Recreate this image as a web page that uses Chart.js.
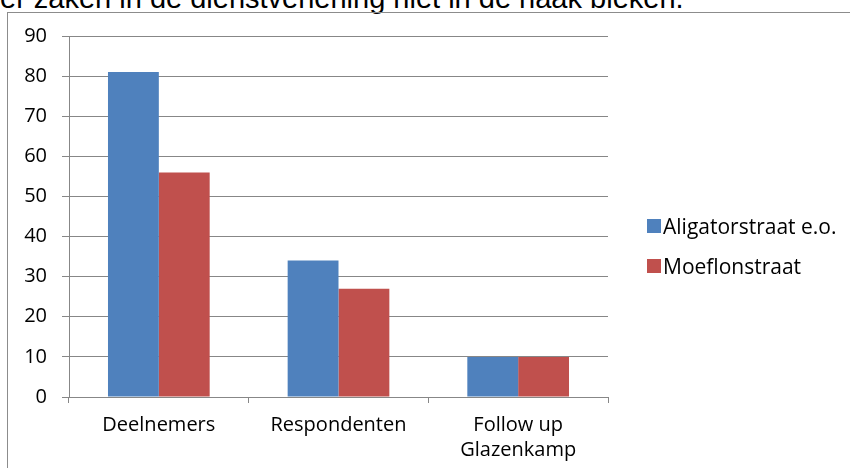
<!DOCTYPE html>
<html>
<head>
<meta charset="utf-8">
<script src="https://cdn.jsdelivr.net/npm/chart.js@4.4.1/dist/chart.umd.min.js"></script>
<style>
    html, body { margin: 0; padding: 0; background: #fff; overflow: hidden; }
    #page { position: relative; width: 850px; height: 468px; overflow: hidden; }
    #intro {
        position: absolute; left: 0; top: -16px; white-space: nowrap;
        font-family: "Liberation Sans", Arial, sans-serif; font-size: 29px; line-height: 29px; color: #000;
    }
    #frame {
        position: absolute; left: 7px; top: 12px; width: 900px; height: 500px;
        border: 1.5px solid #8c8c8c; box-sizing: border-box;
    }
    #chart { position: absolute; left: 0; top: 0; }
    #legend { position: absolute; left: 647px; top: 210px; font-family: "Open Sans", sans-serif; font-size: 21px; color: #000; }
    .item { display: flex; align-items: center; height: 32px; margin-bottom: 8px; }
    .box { width: 14px; height: 14px; margin-right: 2px; }
</style>
</head>
<body>
<div id="page">
    <div id="intro">er zaken in de dienstverlening niet in de haak bleken.</div>
    <div id="frame"></div>
    <canvas id="chart" width="850" height="468"></canvas>
    <div id="legend"></div>
</div>
<script>
/* ===== data ===== */
const categories = ["Deelnemers", "Respondenten", ["Follow up", "Glazenkamp"]];
const seriesNames = ["Aligatorstraat e.o.", "Moeflonstraat"];
const aligatorValues = [81, 34, 10];
const moeflonValues = [56, 27, 10];
const yTicks = [0, 10, 20, 30, 40, 50, 60, 70, 80, 90];

const colors = ["#4F81BD", "#C0504D"];
const gridColor = "#878787";
const tickFont = { family: "Open Sans", size: 20, lineHeight: 1.25 };

const chart = new Chart(document.getElementById("chart"), {
    type: "bar",
    data: {
        labels: categories,
        datasets: [
            { label: seriesNames[0], data: aligatorValues, backgroundColor: colors[0] },
            { label: seriesNames[1], data: moeflonValues, backgroundColor: colors[1] },
        ],
    },
    options: {
        responsive: false,
        animation: false,
        layout: { padding: { top: 36, right: 242, left: 0, bottom: 0 } },
        datasets: { bar: { categoryPercentage: 0.566, barPercentage: 1.0 } },
        plugins: { legend: { display: false }, tooltip: { enabled: false } },
        scales: {
            y: {
                min: 0,
                max: yTicks[yTicks.length - 1],
                afterFit: (s) => { s.width = 69; },
                afterBuildTicks: (s) => { s.ticks = yTicks.map((v) => ({ value: v })); },
                ticks: { color: "#000", font: tickFont, padding: 15 },
                grid: { color: gridColor, tickLength: 7 },
                border: { color: gridColor },
            },
            x: {
                afterFit: (s) => { s.height = 71; },
                ticks: { color: "#000", font: tickFont, padding: 10, maxRotation: 0 },
                grid: { color: gridColor, drawOnChartArea: false, tickLength: 6 },
                border: { color: gridColor },
            },
        },
    },
});

// legend in html, built from the datasets
const legend = document.getElementById("legend");
chart.data.datasets.forEach((ds) => {
    const item = document.createElement("div");
    item.className = "item";
    item.innerHTML = '<span class="box" style="background:' + ds.backgroundColor + '"></span><span>' + ds.label + "</span>";
    legend.appendChild(item);
});
</script>
</body>
</html>
